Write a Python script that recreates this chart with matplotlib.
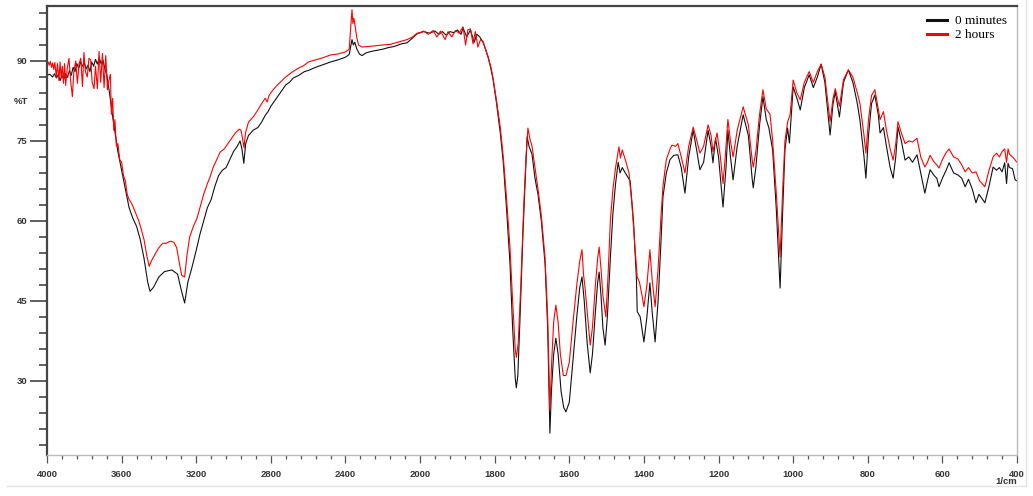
"""
FTIR spectra overlay: 0 minutes vs 2 hours, split wavenumber axis (4000-2000 compressed).
"""
import numpy as np
import matplotlib
matplotlib.use("Agg")
import matplotlib.pyplot as plt
from matplotlib.ticker import FixedLocator
from matplotlib.lines import Line2D

# 0 minutes (black)
wn_0min = [4000, 3985, 3970, 3960, 3950, 3940, 3930, 3920, 3910, 3900, 3890, 3880, 3870, 3860,
           3850, 3840, 3830, 3820, 3810, 3800, 3790, 3780, 3770, 3760, 3750, 3740, 3730, 3720,
           3710, 3700, 3690, 3680, 3665, 3650, 3635, 3620, 3600, 3580, 3560, 3540, 3520, 3500,
           3480, 3460, 3448, 3430, 3400, 3370, 3330, 3300, 3280, 3262, 3245, 3225, 3200, 3180,
           3160, 3140, 3120, 3100, 3080, 3060, 3040, 3020, 3000, 2980, 2965, 2955, 2945, 2935,
           2920, 2895, 2870, 2850, 2830, 2815, 2800, 2780, 2760, 2740, 2720, 2700, 2680, 2650,
           2620, 2600, 2560, 2520, 2480, 2440, 2400, 2380, 2370, 2365, 2358, 2350, 2340, 2325,
           2311, 2290, 2260, 2230, 2200, 2170, 2140, 2100, 2070, 2040, 2016, 2000, 1990, 1975,
           1960, 1950, 1940, 1930, 1920, 1910, 1900, 1890, 1885, 1875, 1865, 1855, 1848, 1840,
           1831, 1818, 1810, 1804, 1795, 1785, 1777, 1768, 1759, 1752, 1745, 1742, 1738, 1732,
           1724, 1718, 1713, 1708, 1700, 1692, 1684, 1675, 1665, 1658, 1652, 1648, 1642, 1636,
           1630, 1622, 1615, 1609, 1600, 1590, 1580, 1572, 1566, 1560, 1552, 1544, 1538, 1530,
           1524, 1520, 1515, 1510, 1504, 1498, 1490, 1483, 1476, 1469, 1464, 1458, 1450, 1437,
           1428, 1420, 1418, 1410, 1400, 1392, 1384, 1378, 1370, 1362, 1355, 1349, 1340, 1330,
           1320, 1309, 1300, 1290, 1280, 1268, 1258, 1250, 1240, 1228, 1220, 1215, 1208, 1200,
           1188, 1180, 1175, 1168, 1161, 1150, 1134, 1120, 1110, 1107, 1100, 1090, 1081, 1072,
           1065, 1055, 1045, 1035, 1028, 1022, 1015, 1010, 1000, 990, 981, 970, 957, 946, 935,
           925, 915, 901, 893, 887, 876, 865, 852, 840, 828, 821, 810, 805, 798, 790, 781, 772,
           767, 758, 750, 740, 732, 725, 719, 710, 700, 690, 680, 668, 658, 647, 640, 633, 622,
           615, 609, 600, 590, 582, 570, 558, 548, 539, 530, 520, 510, 502, 497, 486, 475, 464,
           455, 447, 440, 433, 428, 424, 420, 412, 405, 400]
t_0min = [87.3, 87.5, 87.0, 87.6, 86.8, 87.4, 86.3, 87.2, 86.6, 87.6, 86.9, 88.2, 87.3, 88.8,
          88.0, 89.5, 88.6, 89.8, 89.0, 89.6, 88.5, 89.2, 88.0, 89.8, 89.0, 90.3, 89.4, 90.6,
          89.5, 90.2, 88.5, 87.5, 84.0, 80.0, 76.5, 73.0, 69.5, 66.0, 62.5, 60.5, 59.0, 56.5,
          53.0, 48.5, 46.8, 47.5, 49.5, 50.5, 50.8, 50.0, 47.0, 44.6, 48.5, 51.0, 54.5, 57.5,
          60.0, 62.5, 64.0, 66.5, 68.5, 69.5, 70.0, 71.5, 73.0, 74.0, 75.0, 73.5, 70.8, 74.5,
          76.0, 77.0, 77.5, 78.5, 79.8, 80.5, 81.5, 82.5, 83.5, 84.5, 85.5, 86.0, 86.8, 87.3,
          88.0, 88.2, 88.8, 89.3, 89.8, 90.2, 90.7, 91.2, 93.0, 94.0, 93.0, 93.5, 92.3, 91.3,
          91.0, 91.5, 91.8, 92.0, 92.2, 92.5, 92.7, 93.2, 93.4, 94.3, 95.1, 95.3, 95.5, 95.2,
          95.6, 95.0, 95.5, 94.8, 95.5, 95.3, 95.8, 95.0, 96.2, 94.5, 95.8, 93.5, 95.0, 94.5,
          93.5, 90.8, 88.5, 86.4, 82.0, 76.5, 71.0, 62.0, 52.0, 40.0, 30.5, 28.7, 31.0, 42.0,
          58.0, 68.0, 75.8, 74.0, 72.5, 68.0, 65.0, 60.0, 52.0, 40.0, 20.2, 28.0, 35.0, 38.0,
          35.0, 28.0, 25.0, 24.2, 26.0, 34.0, 42.0, 47.5, 49.5, 45.0, 37.0, 31.5, 35.0, 43.0,
          48.5, 50.4, 46.0, 40.0, 36.7, 42.0, 53.0, 61.5, 67.0, 71.0, 69.0, 70.0, 69.0, 67.5,
          60.0, 49.0, 43.0, 42.0, 37.3, 42.0, 48.4, 43.0, 37.3, 45.0, 55.0, 64.5, 69.0, 71.5,
          72.3, 72.4, 70.0, 65.2, 72.0, 77.0, 73.0, 69.6, 71.0, 77.0, 74.0, 70.9, 75.5, 72.0,
          62.6, 70.0, 77.0, 72.0, 67.7, 74.0, 79.9, 76.0, 68.0, 66.2, 70.0, 78.0, 83.3, 79.0,
          77.4, 73.3, 62.0, 47.4, 62.0, 73.3, 77.4, 74.6, 85.1, 83.0, 80.8, 85.0, 87.4, 85.0, 87.0,
          89.4, 86.0, 76.1, 82.0, 84.2, 79.5, 86.0, 88.3, 86.0, 82.0, 78.9, 72.0, 68.0, 76.0,
          82.0, 83.6, 80.0, 76.5, 77.5, 74.0, 70.0, 68.0, 72.0, 77.6, 75.0, 71.4, 72.0, 71.0,
          72.4, 69.0, 65.2, 67.5, 69.6, 68.5, 68.0, 66.4, 68.0, 69.5, 70.9, 69.0, 68.6, 68.0,
          66.4, 67.8, 66.0, 63.4, 65.0, 64.5, 63.4, 66.5, 70.1, 69.5, 70.0, 69.2, 70.9, 67.0,
          70.8, 70.0, 69.8, 67.7, 67.5]

# 2 hours (red)
wn_2h = [4000, 3994, 3988, 3982, 3976, 3970, 3964, 3958, 3950, 3944, 3936, 3930, 3924, 3918,
         3912, 3906, 3900, 3892, 3882, 3874, 3864, 3856, 3846, 3837, 3828, 3819, 3810, 3802,
         3794, 3784, 3775, 3766, 3758, 3748, 3740, 3730, 3721, 3712, 3703, 3694, 3685, 3676,
         3668, 3660, 3655, 3648, 3642, 3636, 3628, 3620, 3610, 3600, 3590, 3580, 3570, 3560,
         3550, 3540, 3525, 3510, 3495, 3480, 3465, 3452, 3440, 3420, 3400, 3380, 3360, 3340,
         3320, 3305, 3290, 3278, 3262, 3250, 3235, 3215, 3196, 3180, 3160, 3140, 3126, 3110,
         3090, 3072, 3050, 3030, 3010, 2990, 2970, 2960, 2952, 2944, 2936, 2920, 2895, 2875,
         2858, 2840, 2830, 2820, 2810, 2790, 2770, 2750, 2720, 2690, 2660, 2620, 2600, 2560,
         2520, 2483, 2440, 2400, 2380, 2372, 2365, 2360, 2355, 2348, 2340, 2330, 2311, 2280,
         2250, 2200, 2161, 2120, 2070, 2040, 2016, 2000, 1990, 1978, 1965, 1955, 1945, 1933,
         1925, 1915, 1905, 1895, 1885, 1878, 1872, 1865, 1858, 1852, 1845, 1838, 1831, 1818,
         1810, 1804, 1795, 1785, 1777, 1768, 1759, 1752, 1745, 1742, 1737, 1730, 1722, 1716,
         1711, 1706, 1700, 1692, 1684, 1675, 1665, 1658, 1652, 1647, 1642, 1636, 1630, 1624,
         1616, 1609, 1600, 1590, 1580, 1572, 1566, 1562, 1558, 1552, 1544, 1538, 1530, 1524,
         1520, 1515, 1510, 1506, 1502, 1496, 1490, 1483, 1476, 1467, 1463, 1458, 1450, 1440,
         1432, 1424, 1418, 1412, 1405, 1400, 1392, 1384, 1378, 1370, 1362, 1355, 1349, 1340,
         1330, 1325, 1315, 1309, 1300, 1290, 1280, 1268, 1258, 1250, 1240, 1228, 1220, 1215,
         1204, 1195, 1188, 1182, 1175, 1168, 1161, 1150, 1134, 1120, 1110, 1107, 1100, 1090,
         1081, 1072, 1062, 1055, 1045, 1035, 1028, 1022, 1015, 1008, 1000, 990, 981, 970, 957,
         946, 935, 925, 915, 901, 893, 887, 876, 865, 852, 840, 828, 821, 810, 805, 798, 790,
         781, 772, 767, 758, 750, 740, 732, 725, 719, 710, 700, 690, 680, 668, 658, 647, 640,
         633, 622, 615, 609, 600, 590, 582, 570, 558, 548, 539, 530, 520, 510, 500, 486, 475,
         464, 455, 447, 440, 433, 428, 424, 420, 412, 405, 400]
t_2h = [89.4, 89.8, 89.2, 89.9, 88.8, 89.6, 88.4, 89.7, 87.0, 89.5, 86.3, 89.8, 86.8, 89.0,
        85.8, 89.5, 85.4, 88.5, 90.5, 86.5, 83.3, 88.0, 90.0, 85.8, 89.5, 90.5, 85.2, 91.6,
        88.0, 87.0, 90.5, 90.2, 86.0, 84.8, 89.0, 84.8, 91.8, 86.0, 91.4, 85.0, 91.0, 84.6,
        86.4, 87.5, 80.0, 83.0, 77.0, 79.0, 74.0, 74.5, 71.5, 71.0, 68.5, 67.5, 65.0, 64.0,
        63.5, 62.8, 61.5, 60.2, 58.5, 56.5, 53.5, 51.5, 52.5, 53.8, 55.0, 55.8, 55.8, 56.2,
        56.0, 55.0, 52.0, 49.8, 49.5, 53.5, 57.0, 59.0, 60.5, 62.5, 65.0, 67.0, 68.2, 70.0,
        71.5, 72.9, 73.5, 74.5, 75.5, 76.5, 77.2, 77.0, 75.5, 73.7, 76.5, 78.5, 79.5, 80.5,
        81.5, 82.5, 83.0, 82.3, 83.5, 84.5, 85.3, 86.0, 87.0, 87.8, 88.5, 89.2, 89.8, 90.2,
        90.6, 91.1, 91.3, 91.7, 92.2, 96.0, 99.6, 97.0, 98.0, 96.5, 94.5, 93.0, 92.6, 92.7,
        92.8, 93.0, 93.1, 93.5, 94.0, 94.5, 95.2, 95.3, 95.6, 95.0, 95.7, 94.5, 95.6, 94.0,
        95.5, 94.5, 95.7, 95.2, 96.4, 93.0, 95.8, 96.0, 93.2, 95.5, 92.6, 94.0, 93.6, 90.8,
        88.8, 86.6, 82.5, 77.5, 72.0, 64.0, 55.0, 45.0, 36.0, 34.4, 37.0, 48.0, 63.0, 72.0,
        77.4, 75.5, 74.0, 70.0, 66.0, 61.0, 53.0, 42.0, 24.5, 34.0, 41.0, 44.2, 41.0, 35.0,
        31.0, 31.0, 33.5, 41.0, 48.0, 52.5, 54.6, 50.0, 47.6, 43.0, 36.7, 40.0, 48.0, 53.0,
        55.1, 51.0, 46.0, 44.0, 42.0, 50.0, 60.0, 66.0, 70.0, 73.9, 71.8, 73.3, 71.5, 69.0,
        63.0, 55.0, 49.5, 48.5, 46.0, 43.9, 48.0, 54.6, 49.0, 43.9, 51.0, 60.0, 66.5, 71.5,
        73.5, 74.2, 74.0, 74.5, 72.0, 69.0, 74.0, 77.6, 75.0, 72.7, 74.0, 78.0, 76.0, 73.0,
        76.5, 72.0, 67.0, 72.0, 79.0, 75.0, 72.0, 77.0, 81.4, 78.0, 71.5, 70.1, 73.0, 80.0,
        84.6, 81.0, 80.0, 75.0, 65.0, 53.2, 66.0, 75.0, 78.5, 80.0, 86.4, 84.0, 82.7, 86.0, 88.0,
        86.0, 88.0, 89.4, 87.0, 78.6, 83.0, 84.8, 81.5, 86.5, 88.3, 87.0, 84.0, 82.0, 76.0, 72.7,
        79.0, 83.5, 84.6, 81.0, 79.0, 80.5, 77.0, 73.5, 71.4, 74.5, 78.6, 76.5, 74.5, 75.0,
        74.8, 75.5, 72.0, 70.1, 71.0, 72.3, 71.0, 70.5, 69.9, 71.5, 72.8, 73.5, 72.0, 71.6,
        70.5, 69.2, 70.0, 69.0, 69.2, 67.5, 66.4, 69.5, 72.0, 72.7, 72.0, 73.0, 73.5, 71.0,
        73.5, 72.5, 72.0, 71.4, 71.0]

x_major = [4000, 3600, 3200, 2800, 2400, 2000, 1800, 1600, 1400, 1200, 1000, 800, 600, 400]
y_major = [30, 45, 60, 75, 90]


# instrument-style split axis: above 2000 1/cm is compressed by half
def fwd(x):
    x = np.asarray(x, dtype=float)
    return np.where(x > 2000, 2000 + (x - 2000) / 2, x)


def inv(u):
    u = np.asarray(u, dtype=float)
    return np.where(u > 2000, 2000 + (u - 2000) * 2, u)


W, H = 1033, 496
fig = plt.figure(figsize=(W / 100, H / 100), dpi=100)
ax = fig.add_axes([47 / W, 1 - 455 / H, (1017 - 47) / W, (455 - 6) / H])

ax.plot(wn_0min, t_0min, color='#111111', lw=0.8, label='0 minutes')
ax.plot(wn_2h, t_2h, color='#ff0000', lw=0.8, label='2 hours')

ax.set_xscale('function', functions=(fwd, inv))
ax.set_xlim(4000, 400)
ax.set_ylim(16.1, 100.3)

ax.xaxis.set_major_locator(FixedLocator(x_major))
ax.xaxis.set_minor_locator(FixedLocator(list(range(3920, 2000, -80)) + list(range(1960, 400, -40))))
ax.yaxis.set_major_locator(FixedLocator(y_major))
ax.yaxis.set_minor_locator(FixedLocator(list(range(18, 100, 3))))

tick_font = dict(family='Liberation Sans', size=6.8, weight='bold')
ax.set_xticklabels([str(v) for v in x_major], **tick_font, color='#333333')
ax.set_yticklabels([str(v) for v in y_major], **tick_font, color='#333333')
ax.tick_params(axis='y', which='major', length=12, width=1.2, color='#444444', pad=2)
ax.tick_params(axis='y', which='minor', length=6, width=1.2, color='#444444')
ax.tick_params(axis='x', which='major', length=6, width=0.9, color='#555555', pad=5)
ax.tick_params(axis='x', which='minor', length=3, width=0.9, color='#555555')

ax.spines['left'].set_color('#444444')
ax.spines['left'].set_linewidth(1.6)
ax.spines['top'].set_color('#444444')
ax.spines['top'].set_linewidth(1.6)
ax.spines['right'].set_color('#bbbbbb')
ax.spines['right'].set_linewidth(1.0)
ax.spines['bottom'].set_color('#bbbbbb')
ax.spines['bottom'].set_linewidth(1.0)

fig.text(21 / W, 1 - 102 / H, '%T', fontdict=tick_font, color='#333333', ha='center', va='center')
fig.text(1006 / W, 1 - 482 / H, '1/cm', fontdict=tick_font, color='#333333', ha='center', va='center')

leg = ax.legend(loc='upper left', bbox_to_anchor=(927 / W, 1 - 15 / H), bbox_transform=fig.transFigure,
                frameon=False, prop=dict(family='Liberation Serif', size=9.5), handlelength=1.5,
                handletextpad=0.6, labelspacing=0.15, borderpad=0, borderaxespad=0)
for h in leg.get_lines():
    h.set_linewidth(2.2)

# faint outer frame of the original export
fig.add_artist(Line2D([1026 / W, 1026 / W], [1 - 486 / H, 1], color='#e3e3e3', lw=1))
fig.add_artist(Line2D([7 / W, 1026 / W], [1 - 486 / H, 1 - 486 / H], color='#e3e3e3', lw=1))

fig.savefig('out.png', dpi=100, facecolor='white')
